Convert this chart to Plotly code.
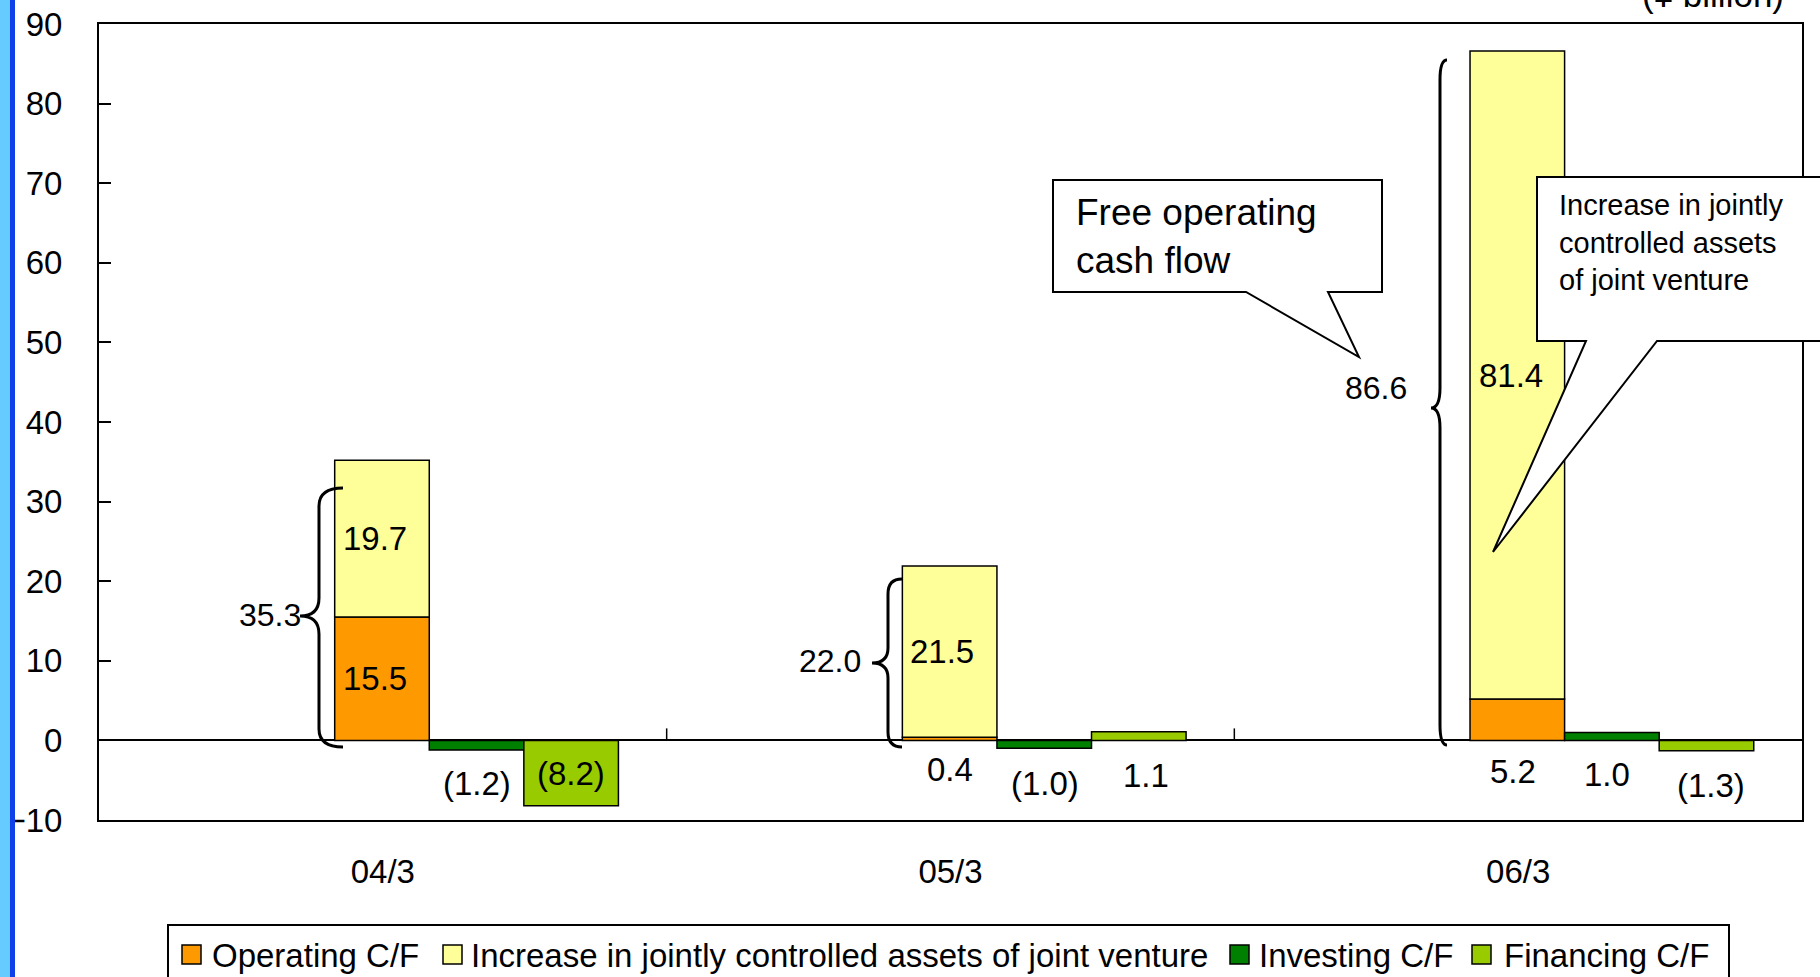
import plotly.graph_objects as go

# ---- data -------------------------------------------------------------
categories = ["04/3", "05/3", "06/3"]
operating_cf = [15.5, 0.4, 5.2]
jv_asset_increase = [19.7, 21.5, 81.4]
investing_cf = [-1.2, -1.0, 1.0]
financing_cf = [-8.2, 1.1, -1.3]
free_operating_cf = [35.3, 22.0, 86.6]
series_names = [
    "Operating C/F",
    "Increase in jointly controlled assets of joint venture",
    "Investing C/F",
    "Financing C/F",
]
y_ticks = [-10, 0, 10, 20, 30, 40, 50, 60, 70, 80, 90]
unit_label = "(¥ billion)"

# ---- styling / geometry ---------------------------------------------------
FONT = "Liberation Sans, Arial, sans-serif"
COLORS = ["#FF9900", "#FFFF99", "#008000", "#99CC00"]
W, H = 1820, 977
ML, MR, MT, MB = 99, 18, 24, 157
PW, PH = W - ML - MR, H - MT - MB
Y_MIN, Y_MAX = y_ticks[0], y_ticks[-1]

BAR_W = 0.1666
OFF_STACK, OFF_INV, OFF_FIN = -0.0848, 0.0818, 0.2484


def fx(x):
    """pixel x -> paper x"""
    return (x - ML) / PW


def fy(y):
    """pixel y -> paper y"""
    return (H - MB - y) / PH


def fmt(v):
    return "(%.1f)" % abs(v) if v < 0 else "%.1f" % v


def path(points, close=True):
    s = "M " + " L ".join("%.5f,%.5f" % (fx(x), fy(y)) for x, y in points)
    return s + (" Z" if close else "")


def brace(x_end, y_top, x_spine, x_tip, y_tip, y_bot, r):
    p = lambda x, y: "%.5f,%.5f" % (fx(x), fy(y))
    return (
        "M " + p(x_end, y_top)
        + " Q " + p(x_spine, y_top) + " " + p(x_spine, y_top + r)
        + " L " + p(x_spine, y_tip - r)
        + " Q " + p(x_spine, y_tip) + " " + p(x_tip, y_tip)
        + " Q " + p(x_spine, y_tip) + " " + p(x_spine, y_tip + r)
        + " L " + p(x_spine, y_bot - r)
        + " Q " + p(x_spine, y_bot) + " " + p(x_end, y_bot)
    )


def note(x, y, text, size, xanchor="center", align="center"):
    """text placed at a pixel position of the page"""
    return dict(x=fx(x), y=fy(y), xref="paper", yref="paper", text=text,
                xanchor=xanchor, yanchor="middle", align=align,
                showarrow=False, font=dict(family=FONT, size=size, color="black"))


bar_line = dict(color="black", width=1.5)
fig = go.Figure()
fig.add_trace(go.Bar(x=categories, y=operating_cf, name=series_names[0],
                     width=BAR_W, offset=OFF_STACK,
                     marker=dict(color=COLORS[0], line=bar_line)))
fig.add_trace(go.Bar(x=categories, y=jv_asset_increase, base=operating_cf,
                     name=series_names[1], width=BAR_W, offset=OFF_STACK,
                     marker=dict(color=COLORS[1], line=bar_line)))
fig.add_trace(go.Bar(x=categories, y=investing_cf, name=series_names[2],
                     width=BAR_W, offset=OFF_INV,
                     marker=dict(color=COLORS[2], line=bar_line)))
fig.add_trace(go.Bar(x=categories, y=financing_cf, name=series_names[3],
                     width=BAR_W, offset=OFF_FIN,
                     marker=dict(color=COLORS[3], line=bar_line)))

annotations = []
shapes = []
vfont = dict(family=FONT, size=33, color="black")

# value labels: ("in", xshift) centred in the segment, ("below", px under zero, xshift)
label_specs = [
    (operating_cf, [0, 0, 0], OFF_STACK, [("in", -7), ("below", 29, 0), ("below", 31, -4)]),
    (jv_asset_increase, operating_cf, OFF_STACK, [("in", -7), ("in", -8), ("in", -6)]),
    (investing_cf, [0, 0, 0], OFF_INV, [("below", 43, 0), ("below", 43, 1), ("below", 34, -5)]),
    (financing_cf, [0, 0, 0], OFF_FIN, [("in", 0), ("below", 35, 7), ("below", 45, 5)]),
]
for values, bases, off, specs in label_specs:
    for i, (v, b, spec) in enumerate(zip(values, bases, specs)):
        xc = i + off + BAR_W / 2
        common = dict(x=xc, xref="x", yref="y", text=fmt(v), showarrow=False,
                      font=vfont, xanchor="center", yanchor="middle")
        if spec[0] == "in":
            annotations.append(dict(common, y=b + v / 2, xshift=spec[1]))
        else:
            annotations.append(dict(common, y=0, yshift=-spec[1], xshift=spec[2]))

# free operating cash flow totals next to the braces
total_pos = [(270, 615), (830, 661), (1376, 388)]
for v, (x, y) in zip(free_operating_cf, total_pos):
    annotations.append(note(x, y, "%.1f" % v, 32))

# braces
for b in [(343, 488, 319, 300, 616, 747, 18),
          (902, 579, 888, 872, 663, 747, 15),
          (1447, 60, 1440, 1431, 408, 745, 20)]:
    shapes.append(dict(type="path", path=brace(*b), xref="paper", yref="paper",
                       line=dict(color="black", width=3), layer="above"))

# boundary ticks on the zero line
tick_len = 12 * (Y_MAX - Y_MIN) / PH
for xb in [0.5, 1.5]:
    shapes.append(dict(type="line", x0=xb, x1=xb, y0=0, y1=tick_len,
                       xref="x", yref="y", line=dict(color="black", width=1.5)))

# callout boxes
callout_line = dict(color="black", width=2)
shapes.append(dict(type="path", xref="paper", yref="paper", layer="above",
                   path=path([(1053, 180), (1382, 180), (1382, 292), (1328, 292),
                              (1359, 357), (1246, 292), (1053, 292)]),
                   fillcolor="white", line=callout_line))
annotations.append(note(1074, 236, "Free operating<br>cash flow", 37,
                        xanchor="left", align="left"))
shapes.append(dict(type="path", xref="paper", yref="paper", layer="above",
                   path=path([(1537, 177), (1840, 177), (1840, 341), (1657, 341),
                              (1493, 552), (1586, 341), (1537, 341)]),
                   fillcolor="white", line=callout_line))
annotations.append(note(1557, 242,
                        "Increase in jointly<br>controlled assets<br>of joint venture",
                        29, xanchor="left", align="left"))

# unit label
annotations.append(note(1786, -5, unit_label, 35, xanchor="right"))

# legend
shapes.append(dict(type="rect", xref="paper", yref="paper",
                   x0=fx(168), x1=fx(1729), y0=fy(925), y1=fy(1010),
                   fillcolor="white", line=dict(color="black", width=2)))
legend_pos = [(182, 212), (443, 471), (1230, 1259), (1472, 1504)]
for name, color, (sx, tx) in zip(series_names, COLORS, legend_pos):
    shapes.append(dict(type="rect", xref="paper", yref="paper",
                       x0=fx(sx), x1=fx(sx + 19), y0=fy(945), y1=fy(964),
                       fillcolor=color, line=dict(color="black", width=1.5)))
    annotations.append(note(tx - 2, 955, name, 33, xanchor="left", align="left"))

# blue edge stripe on the left
shapes.append(dict(type="rect", xref="paper", yref="paper", layer="above",
                   x0=fx(0), x1=fx(10), y0=fy(-20), y1=fy(H + 20),
                   fillcolor="#66CCFF", line=dict(width=0)))
shapes.append(dict(type="rect", xref="paper", yref="paper", layer="above",
                   x0=fx(10), x1=fx(15), y0=fy(-20), y1=fy(H + 20),
                   fillcolor="#1040E8", line=dict(width=0)))

fig.update_layout(
    width=W, height=H,
    margin=dict(l=ML, r=MR, t=MT, b=MB, pad=0, autoexpand=False),
    paper_bgcolor="white", plot_bgcolor="white",
    barmode="overlay", showlegend=False,
    font=dict(family=FONT, size=33, color="black"),
    xaxis=dict(type="category", range=[-0.5, 2.5], showgrid=False,
               automargin=False,
               showline=True, mirror=True, linecolor="black", linewidth=2,
               ticks="", tickfont=dict(size=33), ticklabelstandoff=21,
               zeroline=False),
    yaxis=dict(range=[Y_MIN, Y_MAX], tickvals=y_ticks, showgrid=False,
               automargin=False,
               showline=True, mirror=True, linecolor="black", linewidth=2,
               ticks="inside", ticklen=12, tickwidth=2, tickcolor="black",
               tickfont=dict(size=33), ticklabelstandoff=28,
               zeroline=True, zerolinecolor="black", zerolinewidth=1.5),
    shapes=shapes,
    annotations=annotations,
)

fig.write_html("out.html")
